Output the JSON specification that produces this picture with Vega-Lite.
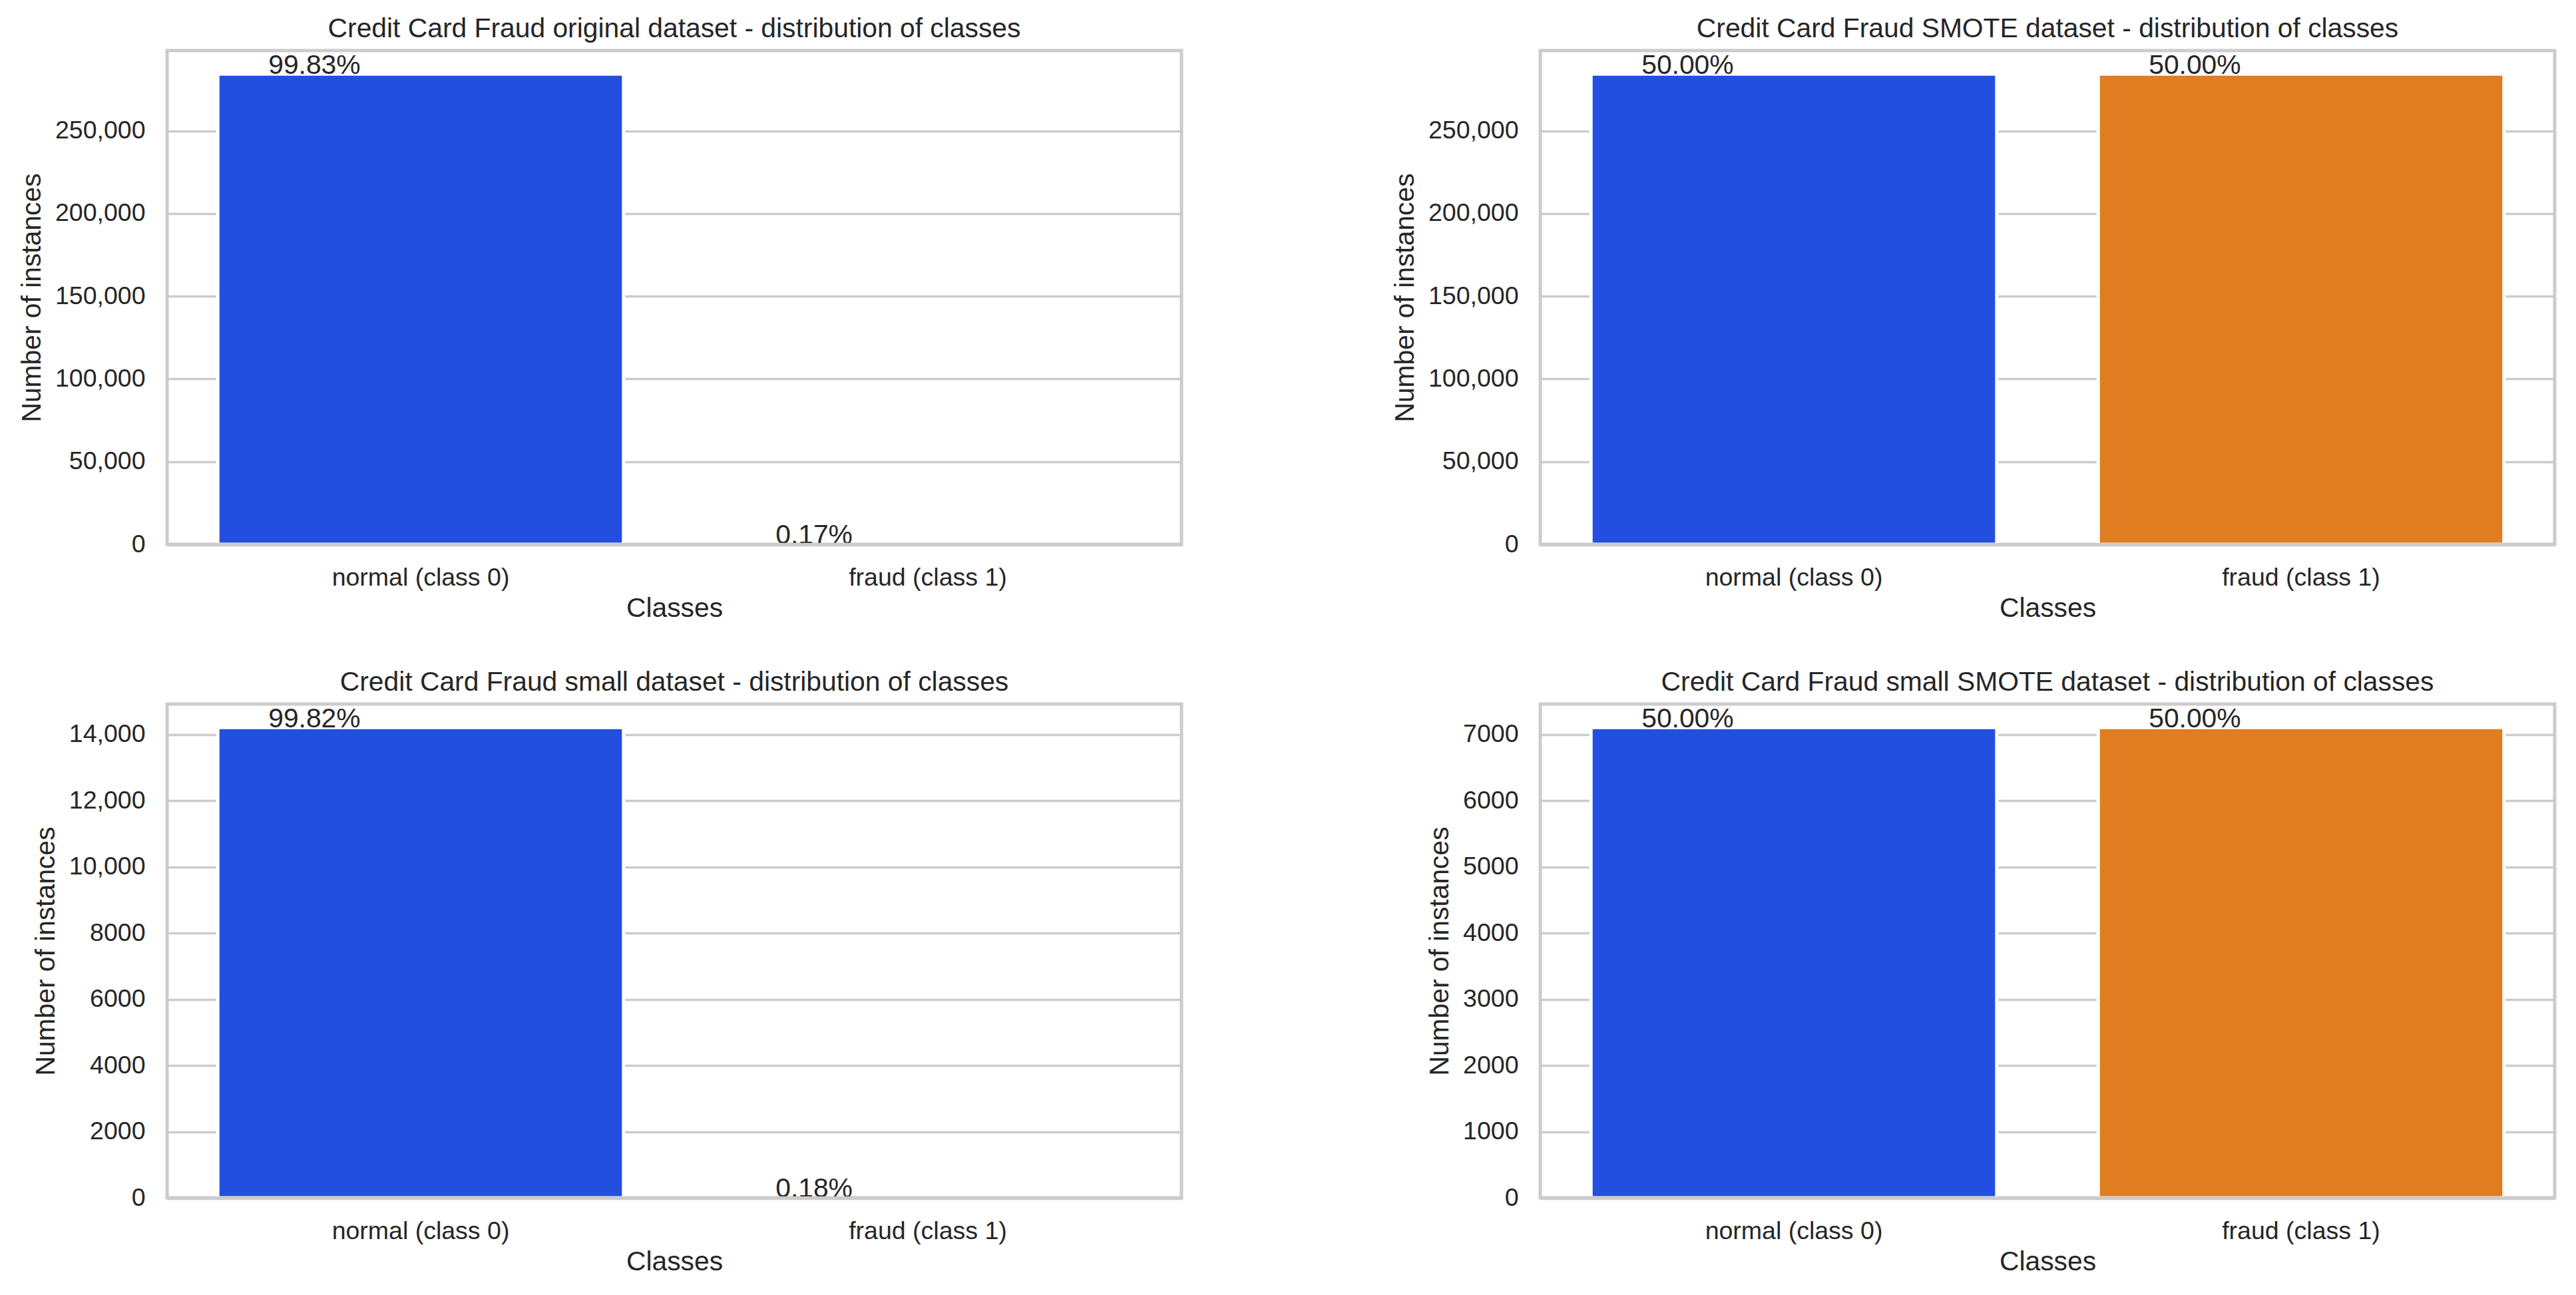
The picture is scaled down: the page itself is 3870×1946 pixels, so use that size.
{
  "$schema": "https://vega.github.io/schema/vega-lite/v6.json",
  "background": "white",
  "padding": {"left": 24, "top": 20, "right": 10, "bottom": 10},
  "autosize": {"type": "pad"},
  "columns": 2,
  "spacing": {"row": 240, "column": 539},
  "bounds": "flush",
  "resolve": {"scale": {"y": "independent", "x": "independent"}},
  "config": {
    "font": "Liberation Sans",
    "view": {"stroke": "#cccccc", "strokeWidth": 5},
    "axis": {
      "domain": false,
      "ticks": false,
      "tickSize": 0,
      "labelFont": "Liberation Sans",
      "labelFontSize": 37.5,
      "labelColor": "#262626",
      "labelLimit": 1000,
      "titleFont": "Liberation Sans",
      "titleFontSize": 40.8,
      "titleColor": "#262626",
      "titleFontWeight": "normal",
      "titleLimit": 2000,
      "gridColor": "#cccccc",
      "gridWidth": 3.4
    },
    "axisX": {"grid": false, "labelAngle": 0, "labelPadding": 31, "titlePadding": 8, "domain": true, "domainColor": "#cccccc", "domainWidth": 5.5},
    "axisY": {"grid": true, "labelPadding": 33, "titlePadding": 13},
    "title": {"fontSize": 40.8, "color": "#262626", "fontWeight": "normal", "font": "Liberation Sans", "offset": 11, "frame": "group", "anchor": "middle", "limit": 3000}
  },
  "datasets": {
    "original": [
      {"cls": "normal (class 0)", "count": 284315, "pct": "99.83%"},
      {"cls": "fraud (class 1)", "count": 492, "pct": "0.17%"}
    ],
    "smote": [
      {"cls": "normal (class 0)", "count": 284315, "pct": "50.00%"},
      {"cls": "fraud (class 1)", "count": 284315, "pct": "50.00%"}
    ],
    "small": [
      {"cls": "normal (class 0)", "count": 14214, "pct": "99.82%"},
      {"cls": "fraud (class 1)", "count": 26, "pct": "0.18%"}
    ],
    "smallsmote": [
      {"cls": "normal (class 0)", "count": 7107, "pct": "50.00%"},
      {"cls": "fraud (class 1)", "count": 7107, "pct": "50.00%"}
    ]
  },
  "concat": [
    {
      "title": "Credit Card Fraud original dataset - distribution of classes",
      "width": 1524, "height": 742,
      "data": {"name": "original"},
      "encoding": {
        "x": {"field": "cls", "type": "nominal", "sort": null, "scale": {"paddingInner": 0.2, "paddingOuter": 0.1}, "axis": {"title": "Classes", "zindex": 1}},
        "y": {"field": "count", "type": "quantitative", "scale": {"domain": [0, 298530.75], "nice": false, "zero": true}, "axis": {"title": "Number of instances", "values": [0, 50000, 100000, 150000, 200000, 250000], "format": ",d", "zindex": 0}}
      },
      "layer": [
        {"mark": {"type": "bar", "stroke": "white", "strokeWidth": 5}, "encoding": {"color": {"field": "cls", "type": "nominal", "scale": {"domain": ["normal (class 0)", "fraud (class 1)"], "range": ["#224FDF", "#DF7D20"]}, "legend": null}, "strokeOpacity": {"condition": {"test": "datum.count < 2000", "value": 0}, "value": 1}}},
        {"mark": {"type": "text", "align": "left", "baseline": "alphabetic", "dx": 76, "fontSize": 40.8, "color": "#262626", "font": "Liberation Sans"}, "encoding": {"x": {"field": "cls", "type": "nominal", "sort": null, "bandPosition": 0}, "text": {"field": "pct"}}}
      ]
    },
    {
      "title": "Credit Card Fraud SMOTE dataset - distribution of classes",
      "width": 1524, "height": 742,
      "data": {"name": "smote"},
      "encoding": {
        "x": {"field": "cls", "type": "nominal", "sort": null, "scale": {"paddingInner": 0.2, "paddingOuter": 0.1}, "axis": {"title": "Classes", "zindex": 1}},
        "y": {"field": "count", "type": "quantitative", "scale": {"domain": [0, 298530.75], "nice": false, "zero": true}, "axis": {"title": "Number of instances", "values": [0, 50000, 100000, 150000, 200000, 250000], "format": ",d", "zindex": 0}}
      },
      "layer": [
        {"mark": {"type": "bar", "stroke": "white", "strokeWidth": 5}, "encoding": {"color": {"field": "cls", "type": "nominal", "scale": {"domain": ["normal (class 0)", "fraud (class 1)"], "range": ["#224FDF", "#DF7D20"]}, "legend": null}}},
        {"mark": {"type": "text", "align": "left", "baseline": "alphabetic", "dx": 76, "fontSize": 40.8, "color": "#262626", "font": "Liberation Sans"}, "encoding": {"x": {"field": "cls", "type": "nominal", "sort": null, "bandPosition": 0}, "text": {"field": "pct"}}}
      ]
    },
    {
      "title": "Credit Card Fraud small dataset - distribution of classes",
      "width": 1524, "height": 742,
      "data": {"name": "small"},
      "encoding": {
        "x": {"field": "cls", "type": "nominal", "sort": null, "scale": {"paddingInner": 0.2, "paddingOuter": 0.1}, "axis": {"title": "Classes", "zindex": 1}},
        "y": {"field": "count", "type": "quantitative", "scale": {"domain": [0, 14924.7], "nice": false, "zero": true}, "axis": {"title": "Number of instances", "values": [0, 2000, 4000, 6000, 8000, 10000, 12000, 14000], "labelExpr": "datum.value >= 10000 ? format(datum.value, ',d') : format(datum.value, 'd')", "zindex": 0}}
      },
      "layer": [
        {"mark": {"type": "bar", "stroke": "white", "strokeWidth": 5}, "encoding": {"color": {"field": "cls", "type": "nominal", "scale": {"domain": ["normal (class 0)", "fraud (class 1)"], "range": ["#224FDF", "#DF7D20"]}, "legend": null}, "strokeOpacity": {"condition": {"test": "datum.count < 200", "value": 0}, "value": 1}}},
        {"mark": {"type": "text", "align": "left", "baseline": "alphabetic", "dx": 76, "fontSize": 40.8, "color": "#262626", "font": "Liberation Sans"}, "encoding": {"x": {"field": "cls", "type": "nominal", "sort": null, "bandPosition": 0}, "text": {"field": "pct"}}}
      ]
    },
    {
      "title": "Credit Card Fraud small SMOTE dataset - distribution of classes",
      "width": 1524, "height": 742,
      "data": {"name": "smallsmote"},
      "encoding": {
        "x": {"field": "cls", "type": "nominal", "sort": null, "scale": {"paddingInner": 0.2, "paddingOuter": 0.1}, "axis": {"title": "Classes", "zindex": 1}},
        "y": {"field": "count", "type": "quantitative", "scale": {"domain": [0, 7462.35], "nice": false, "zero": true}, "axis": {"title": "Number of instances", "values": [0, 1000, 2000, 3000, 4000, 5000, 6000, 7000], "format": "d", "zindex": 0}}
      },
      "layer": [
        {"mark": {"type": "bar", "stroke": "white", "strokeWidth": 5}, "encoding": {"color": {"field": "cls", "type": "nominal", "scale": {"domain": ["normal (class 0)", "fraud (class 1)"], "range": ["#224FDF", "#DF7D20"]}, "legend": null}}},
        {"mark": {"type": "text", "align": "left", "baseline": "alphabetic", "dx": 76, "fontSize": 40.8, "color": "#262626", "font": "Liberation Sans"}, "encoding": {"x": {"field": "cls", "type": "nominal", "sort": null, "bandPosition": 0}, "text": {"field": "pct"}}}
      ]
    }
  ]
}
